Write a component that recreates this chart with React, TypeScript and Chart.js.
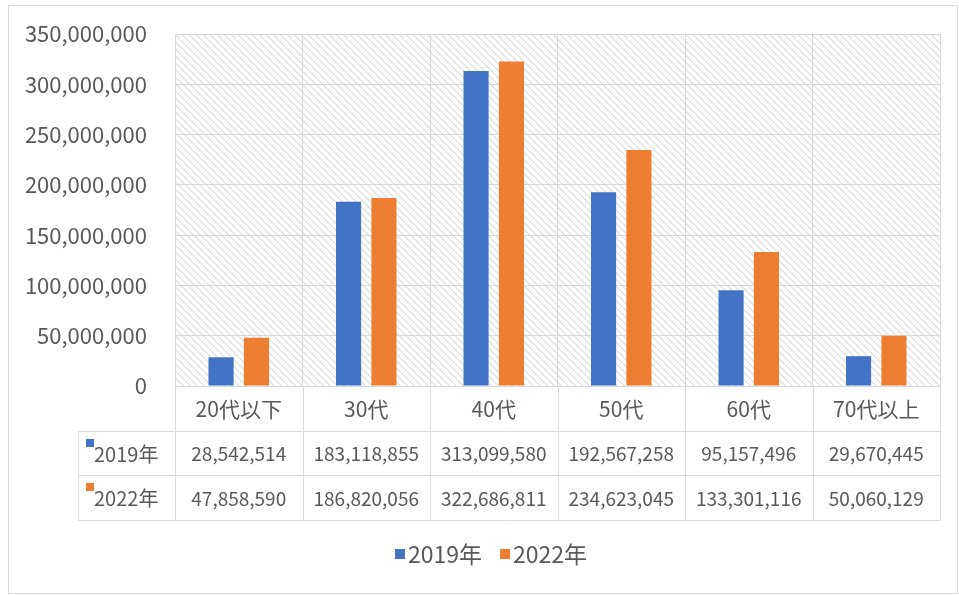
import React, { useEffect, useRef } from "react";
import { Chart, registerables } from "chart.js";

Chart.register(...registerables);

const categories = ["20代以下", "30代", "40代", "50代", "60代", "70代以上"];
const seriesNames = ["2019年", "2022年"];
const values2019 = [28542514, 183118855, 313099580, 192567258, 95157496, 29670445];
const values2022 = [47858590, 186820056, 322686811, 234623045, 133301116, 50060129];
const yMax = 350000000;
const yStep = 50000000;

const BLUE = "#4472C4";
const ORANGE = "#ED7D31";
const GRID = "#d9d9d9";
const TEXT = "#595959";
const FONT = '"Noto Sans CJK JP", "Noto Sans", sans-serif';

function fmt(v: number) {
  return v.toLocaleString("en-US");
}

function makePattern(ctx: CanvasRenderingContext2D) {
  const s = 7;
  const c = document.createElement("canvas");
  c.width = s;
  c.height = s;
  const g = c.getContext("2d")!;
  g.fillStyle = "#ffffff";
  g.fillRect(0, 0, s, s);
  g.fillStyle = "#e4e4e4";
  for (let i = 0; i < s; i++) {
    g.fillRect(i, i, 1, 1);
    g.fillRect((i + 1) % s, i, 1, 1);
  }
  return ctx.createPattern(c, "repeat");
}

const bgPlugin = {
  id: "bgPattern",
  beforeDraw(chart: any) {
    const { ctx, chartArea } = chart;
    ctx.save();
    ctx.fillStyle = "#ffffff";
    ctx.fillRect(0, 0, chart.width, chart.height);
    const p = makePattern(ctx);
    if (p) {
      ctx.fillStyle = p;
      ctx.fillRect(chartArea.left, chartArea.top, chartArea.right - chartArea.left, chartArea.bottom - chartArea.top);
    }
    ctx.restore();
  },
};

const tablePlugin = {
  id: "dataTable",
  afterDraw(chart: any) {
    const { ctx, chartArea } = chart;
    const n = categories.length;
    const left = chartArea.left;
    const right = chartArea.right;
    const cw = (right - left) / n;
    const top = chartArea.bottom;
    const rowH = 44.7;
    const tableLeft = 78;
    const rows = [values2019, values2022];
    const colors = [BLUE, ORANGE];
    const h = (v: number) => Math.round(v) + 0.5;

    ctx.save();
    ctx.strokeStyle = GRID;
    ctx.lineWidth = 1;
    ctx.beginPath();
    for (let r = 1; r <= 3; r++) {
      const y = h(top + r * rowH);
      ctx.moveTo(tableLeft, y);
      ctx.lineTo(right + 0.5, y);
    }
    for (let i = 0; i <= n; i++) {
      const x = h(left + i * cw);
      ctx.moveTo(x, top);
      ctx.lineTo(x, h(top + 3 * rowH));
    }
    ctx.moveTo(h(tableLeft), h(top + rowH));
    ctx.lineTo(h(tableLeft), h(top + 3 * rowH));
    ctx.stroke();

    ctx.fillStyle = TEXT;
    ctx.textBaseline = "middle";
    ctx.textAlign = "center";
    for (let i = 0; i < n; i++) {
      const cx = left + (i + 0.5) * cw;
      ctx.font = `21px ${FONT}`;
      ctx.fillText(categories[i], cx, top + rowH / 2 + 1);
      ctx.font = `19px ${FONT}`;
      for (let r = 0; r < rows.length; r++) {
        ctx.fillText(fmt(rows[r][i]), cx, top + (r + 1.5) * rowH + 1);
      }
    }
    ctx.textAlign = "left";
    ctx.font = `20px ${FONT}`;
    for (let r = 0; r < rows.length; r++) {
      const ry = top + (r + 1) * rowH;
      ctx.fillStyle = colors[r];
      ctx.fillRect(86, Math.round(ry + 8), 8, 8);
      ctx.fillStyle = TEXT;
      ctx.fillText(seriesNames[r], 94, ry + rowH / 2 + 1);
    }

    // legend
    ctx.font = `23px ${FONT}`;
    const sq = 10;
    const gapSq = 3;
    const gapItem = 18;
    const widths = seriesNames.map((s) => ctx.measureText(s).width);
    const total = widths.reduce((a, b) => a + b + sq + gapSq, 0) + gapItem;
    let x = Math.round(491 - total / 2);
    const ly = 553;
    for (let r = 0; r < seriesNames.length; r++) {
      ctx.fillStyle = colors[r];
      ctx.fillRect(x, ly - 4, sq, sq);
      x += sq + gapSq;
      ctx.fillStyle = TEXT;
      ctx.fillText(seriesNames[r], x, ly + 1);
      x += widths[r] + gapItem;
    }

    ctx.strokeStyle = GRID;
    ctx.strokeRect(8.5, 5.5, 949, 588);
    ctx.restore();
  },
};

export default function App() {
  const ref = useRef<HTMLCanvasElement | null>(null);
  useEffect(() => {
    if (!ref.current) return;
    const chart = new Chart(ref.current, {
      type: "bar",
      data: {
        labels: categories,
        datasets: [
          { label: seriesNames[0], data: values2019, backgroundColor: BLUE, borderWidth: 0 },
          { label: seriesNames[1], data: values2022, backgroundColor: ORANGE, borderWidth: 0 },
        ],
      },
      options: {
        responsive: false,
        animation: false,
        devicePixelRatio: 1,
        layout: { padding: { left: 0, top: 34, right: 19, bottom: 209 } },
        datasets: { bar: { categoryPercentage: 0.555, barPercentage: 0.71 } },
        plugins: { legend: { display: false }, tooltip: { enabled: false } },
        scales: {
          x: {
            type: "category",
            grid: { offset: true, color: GRID, drawTicks: false },
            border: { display: false },
            ticks: { display: false },
            afterFit: (s: any) => {
              s.height = 0;
              s.paddingLeft = 0;
              s.paddingRight = 0;
            },
          },
          y: {
            min: 0,
            max: yMax,
            ticks: {
              stepSize: yStep,
              padding: 28,
              color: TEXT,
              font: { family: FONT, size: 22 },
              callback: (v: any) => fmt(Number(v)),
            },
            grid: { color: GRID, drawTicks: false },
            border: { display: true, color: GRID },
            afterFit: (s: any) => {
              s.width = 175;
              s.paddingTop = 0;
              s.paddingBottom = 0;
            },
          },
        },
      },
      plugins: [bgPlugin, tablePlugin],
    } as any);
    return () => chart.destroy();
  }, []);
  return (
    <div style={{ position: "fixed", left: 0, top: 0, width: 959, height: 595, background: "#fff" }}>
      <canvas ref={ref} width={959} height={595} style={{ display: "block" }} />
    </div>
  );
}
